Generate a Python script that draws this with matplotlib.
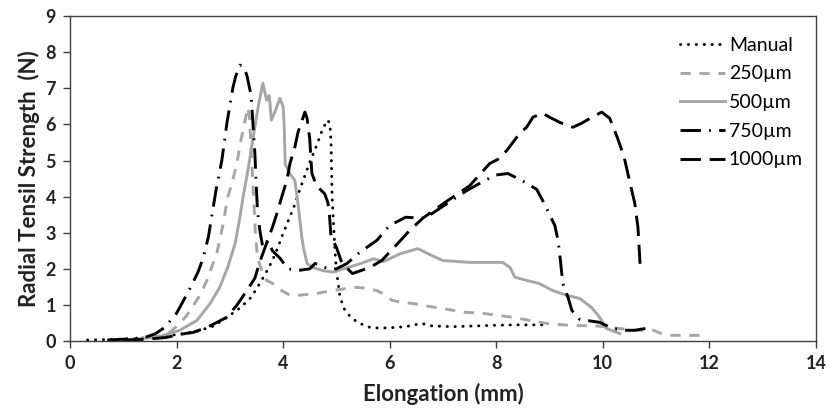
import matplotlib.pyplot as plt

plt.rcParams['font.family'] = ['Lato', 'DejaVu Sans']

# Manual
manual_x = [0.33, 0.6, 0.9, 1.2, 1.5, 1.8, 2.1, 2.4, 2.7, 2.95, 3.2, 3.4, 3.56, 3.72, 3.85, 4.0,
            4.2, 4.33, 4.5, 4.63, 4.75, 4.84, 4.88, 4.9, 4.92, 4.97, 5.0, 5.07, 5.16, 5.29, 5.44,
            5.63, 5.8, 6.0, 6.3, 6.6, 6.8, 7.2, 7.6, 8.0, 8.4, 8.87]
manual_y = [0.03, 0.04, 0.05, 0.07, 0.1, 0.14, 0.2, 0.28, 0.42, 0.66, 0.93, 1.21, 1.59, 2.0, 2.4, 2.98,
            3.7, 4.26, 4.95, 5.42, 5.9, 6.12, 6.0, 5.5, 4.0, 2.6, 1.96, 1.21, 0.85, 0.63, 0.49,
            0.38, 0.36, 0.37, 0.4, 0.49, 0.42, 0.4, 0.42, 0.44, 0.45, 0.45]

# 250 um
s250_x = [0.8, 1.2, 1.5, 1.7, 1.88, 2.06, 2.19, 2.34, 2.44, 2.57, 2.66, 2.76, 2.87, 2.96, 3.04, 3.13,
          3.2, 3.27, 3.34, 3.37, 3.41, 3.45, 3.48, 3.52, 3.6, 3.69, 3.8, 3.97, 4.13, 4.3, 4.63, 4.93,
          5.2, 5.38, 5.57, 5.76, 5.9, 6.04, 6.25, 6.44, 6.7, 7.0, 7.4, 7.75, 8.0, 8.4, 8.7, 9.0,
          9.45, 9.9, 10.3, 10.6, 10.95, 11.1, 11.3, 11.6, 11.9]
s250_y = [0.03, 0.05, 0.08, 0.15, 0.25, 0.49, 0.71, 1.04, 1.27, 1.68, 2.05, 2.46, 3.2, 3.98, 4.37, 4.9,
          5.5, 6.0, 6.47, 6.2, 5.0, 3.9, 2.97, 2.3, 1.96, 1.68, 1.6, 1.4, 1.27, 1.27, 1.32, 1.4,
          1.46, 1.49, 1.46, 1.4, 1.3, 1.13, 1.07, 1.04, 0.97, 0.9, 0.8, 0.77, 0.72, 0.64, 0.55, 0.48,
          0.43, 0.42, 0.35, 0.3, 0.3, 0.21, 0.16, 0.16, 0.16]

# 500 um
s500_x = [0.9, 1.3, 1.69, 2.06, 2.38, 2.63, 2.81, 2.96, 3.1, 3.19, 3.25, 3.34, 3.43, 3.53, 3.62, 3.69,
          3.74, 3.78, 3.86, 3.94, 4.0, 4.02, 4.04, 4.13, 4.22, 4.28, 4.35, 4.38, 4.45, 4.56, 4.75,
          4.94, 5.13, 5.44, 5.7, 5.88, 6.2, 6.53, 6.79, 7.0, 7.5, 8.12, 8.26, 8.35, 8.57, 8.8, 9.06,
          9.32, 9.57, 9.79, 9.94, 10.07, 10.32]
s500_y = [0.03, 0.06, 0.13, 0.3, 0.57, 1.04, 1.49, 2.04, 2.7, 3.43, 4.0, 4.73, 5.56, 6.47, 7.14, 6.67,
          6.8, 6.12, 6.4, 6.72, 6.5, 6.0, 4.9, 4.63, 4.45, 3.8, 2.9, 2.6, 2.15, 2.04, 1.95,
          1.91, 2.0, 2.14, 2.28, 2.2, 2.42, 2.56, 2.37, 2.23, 2.18, 2.18, 2.04, 1.77, 1.68, 1.6, 1.4,
          1.27, 1.18, 0.93, 0.66, 0.35, 0.21]

# 750 um
s750_x = [0.7, 1.1, 1.4, 1.6, 1.78, 2.0, 2.24, 2.4, 2.5, 2.6, 2.74, 2.85, 2.95, 3.06, 3.11, 3.19,
          3.26, 3.32, 3.4, 3.47, 3.5, 3.52, 3.57, 3.62, 3.72, 3.8, 3.94, 4.09, 4.3, 4.5, 4.6, 4.7,
          4.84, 5.0, 5.2, 5.44, 5.76, 6.0, 6.3, 6.66, 7.07, 7.45, 7.79, 8.0, 8.22, 8.54, 8.76, 8.87,
          8.97, 9.1, 9.16, 9.2, 9.25, 9.35, 9.42, 9.57, 9.94, 10.19, 10.4, 10.6, 10.8]
s750_y = [0.03, 0.06, 0.1, 0.2, 0.38, 0.77, 1.42, 1.9, 2.3, 2.9, 4.17, 5.0, 6.08, 7.03, 7.33, 7.64,
          7.6, 7.36, 6.8, 5.2, 4.2, 3.6, 3.0, 2.6, 2.78, 2.5, 2.3, 2.0, 1.96, 2.0, 2.15, 2.1,
          2.0, 2.0, 2.15, 2.46, 2.79, 3.2, 3.43, 3.4, 3.8, 4.17, 4.45, 4.6, 4.64, 4.4, 4.2, 3.9,
          3.6, 3.2, 2.8, 2.3, 1.6, 1.2, 0.85, 0.6, 0.52, 0.35, 0.3, 0.3, 0.35]

# 1000 um
s1000_x = [1.0, 1.4, 1.8, 2.12, 2.31, 2.57, 2.76, 2.94, 3.13, 3.32, 3.47, 3.56, 3.71, 3.8, 3.9, 3.97,
           4.07, 4.13, 4.22, 4.28, 4.41, 4.45, 4.5, 4.54, 4.63, 4.78, 4.84, 4.87, 4.9, 5.0, 5.1,
           5.3, 5.63, 5.85, 6.15, 6.38, 6.62, 7.0, 7.5, 7.88, 8.03, 8.2, 8.44, 8.57, 8.69, 8.87,
           9.0, 9.2, 9.44, 9.6, 9.8, 9.98, 10.13, 10.28, 10.4, 10.5, 10.6, 10.66, 10.7]
s1000_y = [0.03, 0.05, 0.1, 0.2, 0.24, 0.38, 0.52, 0.66, 0.99, 1.4, 1.74, 2.18, 2.79, 3.15, 3.61, 3.97,
           4.45, 4.92, 5.37, 5.78, 6.34, 6.17, 5.6, 4.64, 4.3, 4.08, 3.84, 3.5, 2.88, 2.6, 2.18,
           1.87, 2.04, 2.23, 2.7, 3.07, 3.4, 3.8, 4.3, 4.92, 5.03, 5.28, 5.75, 5.92, 6.2, 6.31,
           6.2, 6.05, 5.92, 6.03, 6.2, 6.34, 6.17, 5.61, 5.1, 4.45, 3.82, 3.15, 2.14]

labels = ['Manual', '250µm', '500µm', '750µm', '1000µm']
gris = '#a6a6a6'

fig = plt.figure(figsize=(8.3, 4.16), dpi=100)
ax = fig.add_axes([0.0843, 0.18, 0.8987, 0.7815])

lw = 2.1
ax.plot(manual_x, manual_y, color='black', lw=lw, linestyle=(0, (0.1, 2.6)),
        dash_capstyle='round', label=labels[0])
ax.plot(s250_x, s250_y, color=gris, lw=lw, linestyle=(0, (3.5, 3.0)), label=labels[1])
ax.plot(s500_x, s500_y, color=gris, lw=lw, linestyle='-', label=labels[2])
ax.plot(s750_x, s750_y, color='black', lw=lw, linestyle=(0, (7, 2.8, 0.6, 2.8)), label=labels[3])
ax.plot(s1000_x, s1000_y, color='black', lw=lw, linestyle=(0, (7, 3)), label=labels[4])

ax.set_xlim(0, 14)
ax.set_ylim(0, 9)
ax.set_xticks(range(0, 15, 2))
ax.set_yticks(range(0, 10))
ax.tick_params(direction='out', length=5, width=1, colors='#404040', labelsize=13,
               labelcolor='#222222', pad=5)
for lab in ax.get_xticklabels() + ax.get_yticklabels():
    lab.set_fontweight('bold')
for sp in ax.spines.values():
    sp.set_color('#404040')
    sp.set_linewidth(1)

ax.set_xlabel('Elongation (mm)', fontsize=16, fontweight='bold', color='#222222', labelpad=8)
ax.set_ylabel('Radial Tensil Strength  (N)', fontsize=16, fontweight='bold', color='#222222',
              labelpad=4)

ax.legend(loc='upper right', bbox_to_anchor=(1.006, 0.99), frameon=False, fontsize=14,
          handlelength=2.3, handletextpad=0.2, labelspacing=0.6)

plt.savefig('out.png', dpi=100)
